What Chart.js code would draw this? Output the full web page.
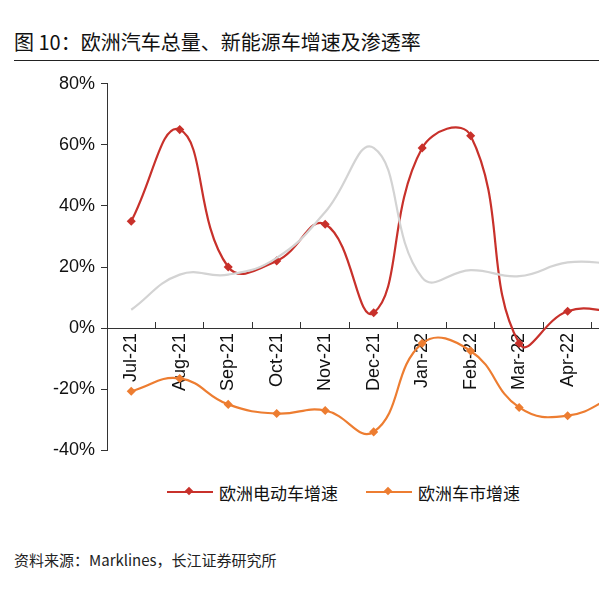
<!DOCTYPE html>
<html><head><meta charset="utf-8">
<script src="https://cdn.jsdelivr.net/npm/chart.js@4"></script>
<style>
body{margin:0;width:599px;height:600px;overflow:hidden;background:#fff;font-family:"Noto Sans CJK SC",Arial,sans-serif;position:relative}
#title{position:absolute;left:14px;top:27px;font-size:20px;color:#111}
#rule{position:absolute;left:14px;top:60px;width:585px;border-top:1.5px solid #222}
#wrap{position:absolute;left:0;top:67px;width:650px;height:400px}
#legend{position:absolute;top:473px;left:167px;font-size:17px;color:#111}
#legend span.item{display:inline-flex;align-items:center;margin-right:28px}
#legend i{display:inline-block;width:46px;height:2px;margin-right:6px;position:relative}
#legend i b{position:absolute;left:19px;top:-3px;width:6px;height:6px;transform:rotate(45deg)}
#src{position:absolute;left:14px;top:549px;font-size:15px;color:#222}
</style></head><body>
<div id="title">图 10：欧洲汽车总量、新能源车增速及渗透率</div>
<div id="rule"></div>
<div id="wrap"><canvas id="c" width="650" height="400"></canvas></div>
<div id="legend"><span class="item"><i style="background:#c8312b"><b style="background:#c8312b"></b></i>欧洲电动车增速</span><span class="item"><i style="background:#ed7d31"><b style="background:#ed7d31"></b></i>欧洲车市增速</span></div>
<div id="src">资料来源：Marklines，长江证券研究所</div>
<script>
const categories=["Jul-21","Aug-21","Sep-21","Oct-21","Nov-21","Dec-21","Jan-22","Feb-22","Mar-22","Apr-22","May-22"];
const evGrowth=[35,65,20,22,34,5,59,63,-5,5.5,5.5];
const marketGrowth=[-20.7,-16.5,-25,-28,-27,-34,-5,-7.5,-26,-28.7,-22];
const penetration=[6,17.5,17.5,23,38,59,16.5,19,17,21.5,21];
const yTicks=[-40,-20,0,20,40,60,80];
const ds=(label,data,color,pts)=>({label,data,borderColor:color,backgroundColor:color,borderWidth:2.2,tension:0.45,pointStyle:'rectRot',pointRadius:pts?3:0,pointHoverRadius:0});
new Chart(document.getElementById('c'),{type:'line',
data:{labels:categories,datasets:[ds('渗透率',penetration,'#d3d3d3',false),ds('欧洲车市增速',marketGrowth,'#ed7d31',true),ds('欧洲电动车增速',evGrowth,'#c8312b',true)]},
options:{responsive:false,animation:false,layout:{padding:{left:0,right:6,top:14,bottom:2}},
plugins:{legend:{display:false},tooltip:{enabled:false}},
scales:{
x:{position:{y:0},offset:true,grid:{drawOnChartArea:false,offset:true,tickLength:-7,color:'#333'},border:{color:'#333'},
ticks:{minRotation:90,maxRotation:90,padding:12,color:'#111',font:{family:'Liberation Sans, Arial',size:18}}},
y:{min:-40,max:80,afterBuildTicks:a=>{a.ticks=yTicks.map(v=>({value:v}));},afterFit:a=>{a.width=107;},
grid:{drawOnChartArea:false,tickLength:6,color:'#333'},border:{color:'#333'},
ticks:{padding:6,color:'#111',callback:v=>v+'%',font:{family:'Liberation Sans, Arial',size:18}}}}}});
</script></body></html>
